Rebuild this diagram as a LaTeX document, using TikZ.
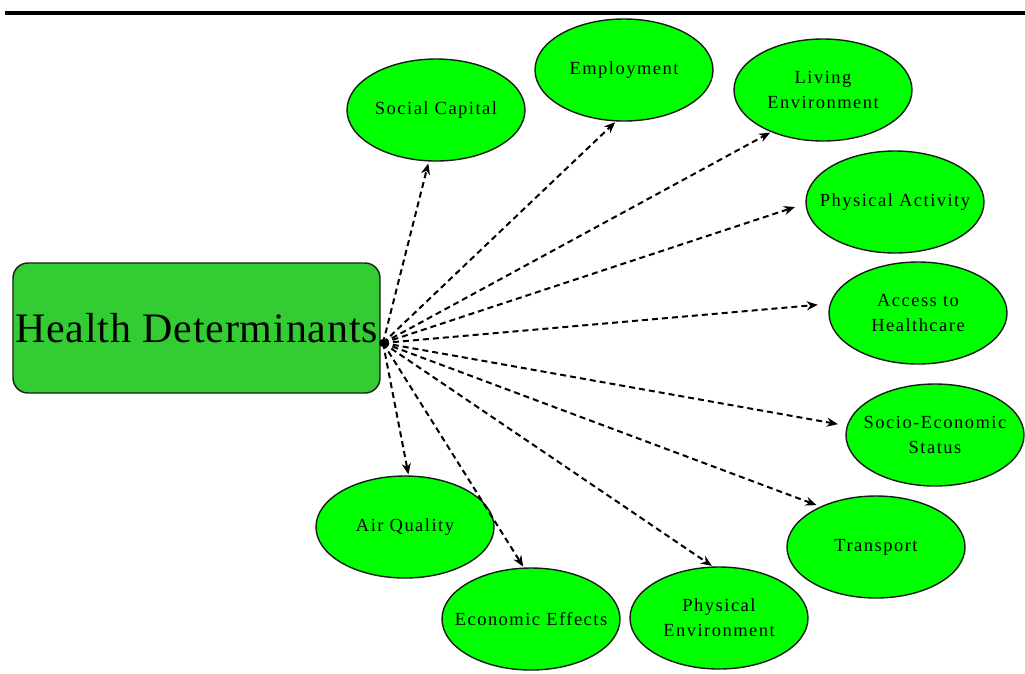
\documentclass[tikz,border=0pt]{standalone}
\usepackage{fontspec}
\setmainfont{Liberation Serif}
\newfontfamily\labfont[LetterSpace=8]{Liberation Serif}
\newfontfamily\bigfont[LetterSpace=2]{Liberation Serif}
\usetikzlibrary{shapes.geometric,arrows.meta}
\definecolor{boxgreen}{HTML}{33CC33}
\definecolor{ellgreen}{HTML}{00FF00}
\definecolor{edgedark}{HTML}{1A1A1A}
\tikzset{
  leaf/.style={ellipse, draw=edgedark, line width=1.4pt, fill=ellgreen,
    minimum width=178pt, minimum height=102pt, inner xsep=-30pt, inner ysep=0pt, align=center,
    font=\labfont\fontsize{18.5}{25}\selectfont},
  mainbox/.style={rectangle, rounded corners=15pt, draw=edgedark, line width=1.4pt,
    fill=boxgreen, minimum width=367pt, minimum height=130pt, inner sep=0pt,
    font=\bigfont\fontsize{42}{48}\selectfont},
  conn/.style={line width=2pt, dash pattern=on 6pt off 4pt,
    -{Stealth[length=11pt, width=9pt, inset=3.5pt]}},
  hubdot/.style={circle, fill=black, inner sep=0pt, minimum size=8pt}
}
\begin{document}
\begin{tikzpicture}[x=1pt, y=-1pt]
\useasboundingbox (0,0) rectangle (1025,673);
\fill[white] (0,0) rectangle (1025,673);
\coordinate (ruleL) at (5,13);
\coordinate (ruleR) at (1025,13);
\draw[line width=4pt] (ruleL) -- (ruleR);

\node[mainbox] (hd) at (196.5,328) {Health Determinants};
\node[hubdot] (hub) at (383,343) {};

\node[leaf] (sc)  at (436,110) {Social Capital};
\node[leaf] (em)  at (624,70)  {Employment};
\node[leaf] (le)  at (823,90)  {Living\\Environment};
\node[leaf] (pa)  at (895,202) {Physical Activity};
\node[leaf] (ah)  at (918,313) {Access to\\Healthcare};
\node[leaf] (ses) at (935,435) {Socio-Economic\\Status};
\node[leaf] (tr)  at (876,547) {Transport};
\node[leaf] (pe)  at (719,618) {Physical\\Environment};
\node[leaf] (ee)  at (531,619) {Economic Effects};
\node[leaf] (aq)  at (405,527) {Air Quality};

\draw[conn, shorten >=2pt]  (hub.center) -- (sc.-98.6);
\draw[conn, shorten >=1pt]  (hub.center) -- (em.-99);
\draw[conn, shorten >=1pt]  (hub.center) -- (le.219.5);
\draw[conn, shorten >=11pt] (hub.center) -- (pa.181);
\draw[conn, shorten >=12pt] (hub.center) -- (ah.174.3);
\draw[conn, shorten >=9pt]  (hub.center) -- (ses.174.6);
\draw[conn, shorten >=4pt]  (hub.center) -- (tr.144.6);
\draw[conn, shorten >=1pt]  (hub.center) -- (pe.97.8);
\draw[conn, shorten >=1pt]  (hub.center) -- (ee.98.7);
\draw[conn, shorten >=1pt]  (hub.center) -- (aq.86);
\end{tikzpicture}
\end{document}
